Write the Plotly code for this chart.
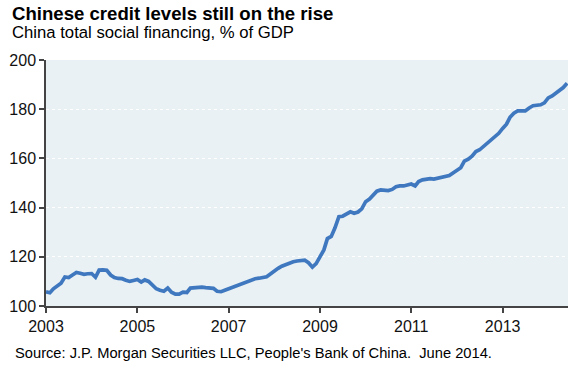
import pandas as pd
import plotly.graph_objects as go

# Monthly data, Jan 2003 - Jun 2014 (China total social financing, % of GDP)
start_month = "2003-01-01"
values = [
    105.8, 105.4, 107.0, 108.2, 109.3, 111.8, 111.6, 112.6, 113.6, 113.3, 112.9, 113.1,  # 2003
    113.2, 111.7, 114.6, 114.7, 114.5, 112.6, 111.6, 111.2, 111.1, 110.5, 110.0, 110.4,  # 2004
    110.8, 109.7, 110.6, 110.0, 108.3, 107.0, 106.4, 106.0, 107.3, 105.6, 104.8, 104.8,  # 2005
    105.6, 105.5, 107.3, 107.5, 107.7, 107.7, 107.5, 107.4, 107.2, 106.0, 105.8, 106.4,  # 2006
    107.0, 107.6, 108.0, 108.5, 109.0, 109.6, 110.5, 111.1, 111.3, 111.5, 111.9, 113.0,  # 2007
    114.3, 115.3, 116.2, 116.9, 117.5, 118.0, 118.3, 118.5, 118.6, 117.6, 115.8, 117.2,  # 2008
    120.0, 122.8, 127.4, 128.3, 131.8, 136.3, 136.5, 137.3, 138.3, 137.7, 138.2, 139.5,  # 2009
    142.4, 143.5, 145.2, 146.7, 147.2, 147.1, 146.9, 147.4, 148.5, 148.8, 148.8, 149.2,  # 2010
    149.6, 148.8, 150.6, 151.3, 151.5, 151.8, 151.6, 152.0, 152.6, 152.6, 153.0, 154.1,  # 2011
    155.2, 156.2, 158.9, 159.7, 160.9, 162.8, 163.5, 164.8, 166.1, 167.3, 168.6, 170.2,  # 2012
    172.2, 173.9, 176.7, 178.4, 179.3, 179.4, 179.3, 180.5, 181.4, 181.6, 181.8, 182.6,  # 2013
    184.6, 185.4, 186.5, 187.8, 188.8, 190.6,                                            # 2014
]
dates = pd.date_range(start_month, periods=len(values), freq="MS")

tick_years = ["2003", "2005", "2007", "2009", "2011", "2013"]
y_ticks = [100, 120, 140, 160, 180, 200]

title_text = "Chinese credit levels still on the rise"
subtitle_text = "China total social financing, % of GDP"
source_text = "Source: J.P. Morgan Securities LLC, People's Bank of China.  June 2014."

FONT = "Liberation Sans, Arial, sans-serif"

fig = go.Figure()
fig.add_trace(go.Scatter(
    x=dates, y=values, mode="lines",
    line=dict(color="#3F78BF", width=3.7),
    hoverinfo="skip", showlegend=False,
))

fig.update_layout(
    width=576, height=368,
    margin=dict(l=46, r=8, t=60, b=62),
    paper_bgcolor="white",
    plot_bgcolor="#E9F1F5",
    font=dict(family=FONT, color="#111111"),
    showlegend=False,
)

fig.update_xaxes(
    type="date",
    range=["2003-01-01", "2014-06-08"],
    tickvals=[f"{y}-01-01" for y in tick_years],
    ticktext=tick_years,
    tickfont=dict(size=16, family=FONT, color="#111111"),
    showgrid=False, zeroline=False,
    showline=True, linecolor="#444444", linewidth=1.5,
    ticks="outside", ticklen=5, tickcolor="#444444", tickwidth=1.5,
)
fig.update_yaxes(
    range=[100, 200],
    tickvals=y_ticks,
    ticktext=[str(v) for v in y_ticks],
    tickfont=dict(size=16, family=FONT, color="#111111"),
    showgrid=True, gridcolor="white", gridwidth=1, griddash="dot",
    zeroline=False,
    showline=True, linecolor="#444444", linewidth=1.5,
    ticks="outside", ticklen=5, tickcolor="#444444", tickwidth=1.5,
)

def px_x(px):
    return (px - 46) / (576 - 46 - 8)

def px_y(py):
    return (306 - py) / (306 - 60)

fig.add_annotation(text=f"<b>{title_text}</b>", xref="paper", yref="paper",
                   x=px_x(10), y=px_y(13.5), xanchor="left", yanchor="middle",
                   showarrow=False, font=dict(size=18.6, family=FONT, color="#000000"))
fig.add_annotation(text=subtitle_text, xref="paper", yref="paper",
                   x=px_x(10), y=px_y(33), xanchor="left", yanchor="middle",
                   showarrow=False, font=dict(size=16.7, family=FONT, color="#000000"))
fig.add_annotation(text=source_text, xref="paper", yref="paper",
                   x=px_x(13), y=px_y(352.5), xanchor="left", yanchor="middle",
                   showarrow=False, font=dict(size=14.7, family=FONT, color="#000000"))

fig.write_html(
    "out.html",
    config={"displayModeBar": False},
    post_script="document.body.style.margin='0';document.body.style.overflow='hidden';",
)
